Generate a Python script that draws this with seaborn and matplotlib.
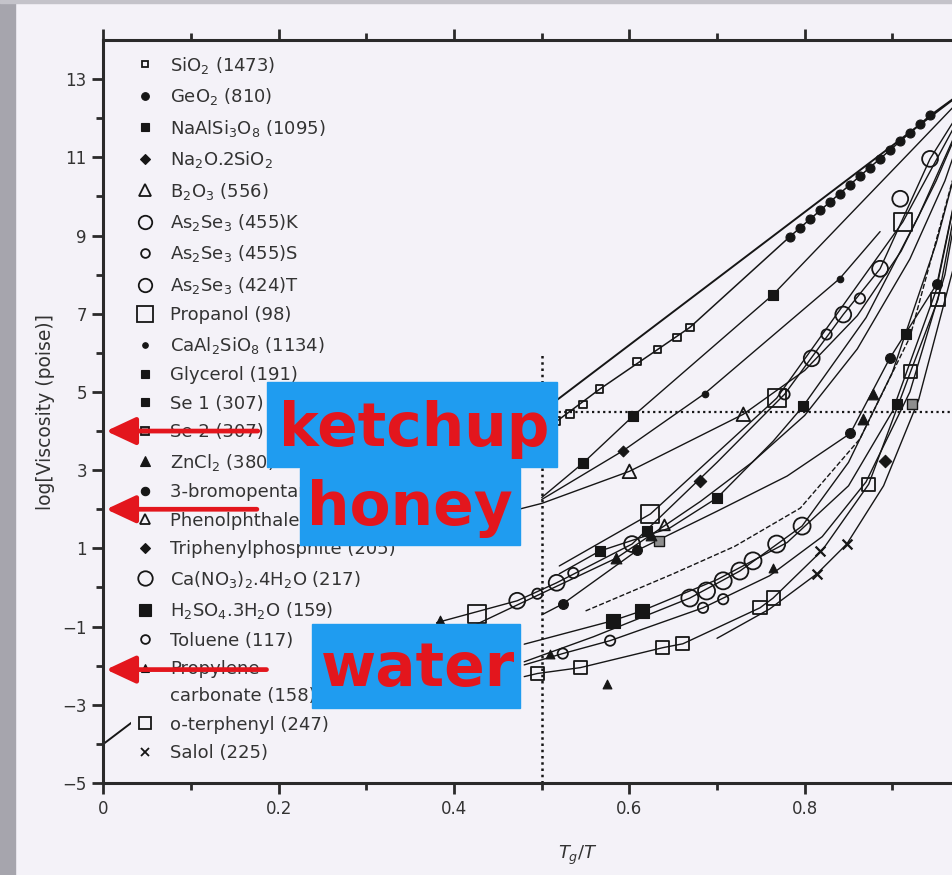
import numpy as np
import pandas as pd
import seaborn as sns
import matplotlib
matplotlib.use("Agg")
import matplotlib.pyplot as plt
from matplotlib.lines import Line2D
from matplotlib.markers import MarkerStyle
from matplotlib.patches import Rectangle
from matplotlib.transforms import Affine2D

sns.set_theme(style="ticks")
plt.rcParams["font.family"] = ["DejaVu Sans"]
plt.rcParams["mathtext.fontset"] = "dejavusans"

# ---------------------------------------------------------------------------
# Data: x = Tg/T, y = log10 viscosity (poise)
# ---------------------------------------------------------------------------
series_labels = [
    r"SiO$_2$ (1473)", r"GeO$_2$ (810)", r"NaAlSi$_3$O$_8$ (1095)", r"Na$_2$O.2SiO$_2$",
    r"B$_2$O$_3$ (556)", r"As$_2$Se$_3$ (455)K", r"As$_2$Se$_3$ (455)S", r"As$_2$Se$_3$ (424)T",
    "Propanol (98)", r"CaAl$_2$SiO$_8$ (1134)", "Glycerol (191)", "Se 1 (307)", "Se 2 (307)",
    r"ZnCl$_2$ (380)", "3-bromopentane (108)", "Phenolphthalein (363)",
    "Triphenylphosphite (205)", r"Ca(NO$_3$)$_2$.4H$_2$O (217)", r"H$_2$SO$_4$.3H$_2$O (159)",
    "Toluene (117)", "Propylene\ncarbonate (158)", "o-terphenyl (247)", "Salol (225)",
]

sio2_x = [0.517, 0.532, 0.547, 0.566, 0.609, 0.632, 0.654, 0.669]
sio2_y = [4.25, 4.43, 4.68, 5.07, 5.78, 6.09, 6.39, 6.65]
geo2_x = [0.783, 0.795, 0.806, 0.818, 0.829, 0.840, 0.852, 0.863, 0.874, 0.886,
          0.897, 0.909, 0.920, 0.931, 0.943]
geo2_y = [8.97, 9.20, 9.42, 9.65, 9.86, 10.07, 10.30, 10.52, 10.73, 10.96,
          11.18, 11.41, 11.62, 11.84, 12.07]
albite_x = [0.547, 0.604, 0.764]
albite_y = [3.18, 4.38, 7.49]
na2o_x = [0.593]
na2o_y = [3.50]
b2o3_x = [0.600, 0.730]
b2o3_y = [2.97, 4.43]
as_k_x = [0.472, 0.517, 0.603, 0.808, 0.844, 0.943]
as_k_y = [-0.34, 0.12, 1.11, 5.86, 6.98, 10.96]
as_s_x = [0.495, 0.536, 0.777, 0.825, 0.863]
as_s_y = [-0.16, 0.37, 4.94, 6.47, 7.39]
as_t_x = [0.886, 0.909]
as_t_y = [8.15, 9.94]
propanol_x = [0.426, 0.624, 0.768, 0.912]
propanol_y = [-0.67, 1.88, 4.84, 9.35]
caal_x = [0.686, 0.840]
caal_y = [4.96, 7.90]
glycerol_x = [0.566, 0.700, 0.798]
glycerol_y = [0.93, 2.29, 4.63]
se1_x = [0.620, 0.905, 0.916]
se1_y = [1.45, 4.68, 6.47]
se2_x = [0.634, 0.922]
se2_y = [1.20, 4.68]
zncl2_x = [0.384, 0.585, 0.625, 0.867, 0.878]
zncl2_y = [-0.85, 0.75, 1.35, 4.30, 4.94]
bromo_x = [0.524, 0.609, 0.852, 0.897, 0.951]
bromo_y = [-0.42, 0.95, 3.94, 5.86, 7.77]
phenol_x = [0.640]
phenol_y = [1.60]
triphenyl_x = [0.681, 0.892]
triphenyl_y = [2.72, 3.23]
ca_x = [0.669, 0.688, 0.707, 0.726, 0.741, 0.768, 0.797]
ca_y = [-0.27, -0.09, 0.17, 0.42, 0.68, 1.11, 1.57]
h2so4_x = [0.581, 0.614]
h2so4_y = [-0.85, -0.60]
toluene_x = [0.524, 0.578, 0.684, 0.707]
toluene_y = [-1.69, -1.36, -0.52, -0.30]
pc_x = [0.509, 0.574, 0.764]
pc_y = [-1.69, -2.46, 0.50]
oter_x = [0.495, 0.544, 0.638, 0.661, 0.749, 0.764, 0.873, 0.921, 0.952]
oter_y = [-2.20, -2.05, -1.54, -1.44, -0.52, -0.27, 2.64, 5.53, 7.36]
salol_x = [0.814, 0.818, 0.848]
salol_y = [0.35, 0.93, 1.11]

# Fitted curves traced through each family of points
arrhenius_x = [0.0, 1.0]
arrhenius_y = [-4.0, 13.0]
curve_sio2_x = [0.517, 0.566, 0.669, 0.783, 0.943, 1.0]
curve_sio2_y = [4.25, 5.07, 6.65, 8.97, 12.07, 13.0]
curve_albite_x = [0.50, 0.547, 0.604, 0.764, 0.85, 0.923, 1.0]
curve_albite_y = [2.30, 3.18, 4.38, 7.49, 9.50, 11.20, 13.0]
curve_na2o_x = [0.50, 0.593, 0.686, 0.840, 0.886]
curve_na2o_y = [2.25, 3.50, 4.96, 7.90, 9.10]
curve_b2o3_x = [0.43, 0.50, 0.600, 0.730, 0.80, 0.86, 0.91, 0.95, 1.0]
curve_b2o3_y = [1.75, 2.15, 2.97, 4.43, 5.55, 6.95, 8.60, 10.40, 13.0]
curve_as_x = [0.38, 0.472, 0.517, 0.603, 0.70, 0.777, 0.844, 0.886, 0.943, 1.0]
curve_as_y = [-0.90, -0.34, 0.12, 1.11, 3.20, 4.94, 6.98, 8.15, 10.96, 13.0]
curve_prop_x = [0.52, 0.624, 0.768, 0.912, 1.0]
curve_prop_y = [0.55, 1.88, 4.84, 9.35, 13.0]
curve_gly_x = [0.52, 0.566, 0.646, 0.700, 0.764, 0.798, 0.87, 0.93, 1.0]
curve_gly_y = [0.35, 0.93, 1.52, 2.29, 3.74, 4.63, 6.90, 9.50, 13.0]
curve_zn_x = [0.42, 0.50, 0.585, 0.625, 0.681, 0.74, 0.80, 0.86, 0.92, 0.96, 1.0]
curve_zn_y = [-1.00, -0.15, 0.75, 1.35, 2.20, 3.20, 4.40, 6.10, 8.40, 10.40, 13.0]
curve_bromo_x = [0.50, 0.524, 0.609, 0.70, 0.78, 0.852, 0.897, 0.951, 1.0]
curve_bromo_y = [-0.70, -0.42, 0.95, 1.95, 2.85, 3.94, 5.86, 7.77, 13.0]
curve_ca_x = [0.48, 0.559, 0.669, 0.726, 0.797, 0.85, 0.90, 0.95, 1.0]
curve_ca_y = [-1.90, -1.26, -0.27, 0.42, 1.57, 3.20, 5.50, 8.80, 13.0]
curve_dash_x = [0.55, 0.65, 0.72, 0.795, 0.863, 0.92, 1.0]
curve_dash_y = [-0.60, 0.35, 1.05, 2.03, 3.80, 6.40, 13.0]
curve_h2so4_x = [0.48, 0.581, 0.614, 0.70, 0.78, 0.85, 0.90, 0.95, 1.0]
curve_h2so4_y = [-1.45, -0.85, -0.60, 0.20, 1.15, 2.60, 4.50, 7.60, 13.0]
curve_tol_x = [0.48, 0.524, 0.578, 0.684, 0.76, 0.82, 0.87, 0.92, 0.96, 1.0]
curve_tol_y = [-1.98, -1.69, -1.36, -0.52, 0.30, 1.30, 2.70, 5.00, 8.00, 13.0]
curve_oter_x = [0.48, 0.495, 0.544, 0.638, 0.661, 0.749, 0.764, 0.82, 0.873, 0.921, 0.952, 1.0]
curve_oter_y = [-2.28, -2.20, -2.05, -1.54, -1.44, -0.52, -0.27, 0.95, 2.64, 5.53, 7.36, 13.0]
curve_salol_x = [0.70, 0.76, 0.814, 0.848, 0.89, 0.93, 0.97, 1.0]
curve_salol_y = [-1.30, -0.55, 0.35, 1.11, 2.60, 4.80, 8.20, 13.0]

# Reference guides: Tg/T = 0.5 and log viscosity = 4.5
guide_x = 0.5
guide_y = 4.5

# Everyday liquids marked on the viscosity axis
everyday_names = ["ketchup", "honey", "water"]
everyday_levels = [4.0, 2.0, -2.1]

x_ticks = [0.0, 0.2, 0.4, 0.6, 0.8]
x_tick_labels = ["0", "0.2", "0.4", "0.6", "0.8"]
y_ticks = [-5, -3, -1, 1, 3, 5, 7, 9, 11, 13]
y_tick_labels = ["\u22125", "\u22123", "\u22121", "1", "3", "5", "7", "9", "11", "13"]

# ---------------------------------------------------------------------------
W, H = 953, 875
BG = "#f4f2f8"
INK = "#161616"
TXT = "#333333"
RED = "#e3161d"
BLUE = "#1f9cf0"

fig = plt.figure(figsize=(W / 100, H / 100), dpi=100, facecolor=BG)
ax = fig.add_axes([103.5 / W, 92 / H, 876.5 / W, 743 / H])
ax.set_facecolor(BG)

# Slide border strips
fig.add_artist(Rectangle((0, 0), 15 / W, 1, transform=fig.transFigure,
                         color="#a6a5ad", zorder=0))
fig.add_artist(Rectangle((0, 1 - 3 / H), 1, 3 / H, transform=fig.transFigure,
                         color="#c4c3ca", zorder=0))

# Curves
curves = [
    (arrhenius_x, arrhenius_y, "-", 1.4),
    (curve_sio2_x, curve_sio2_y, "-", 1.1),
    (curve_albite_x, curve_albite_y, "-", 1.0),
    (curve_na2o_x, curve_na2o_y, "-", 1.0),
    (curve_b2o3_x, curve_b2o3_y, "-", 1.0),
    (curve_as_x, curve_as_y, "-", 1.0),
    (curve_prop_x, curve_prop_y, "-", 1.0),
    (curve_gly_x, curve_gly_y, "-", 1.0),
    (curve_zn_x, curve_zn_y, "-", 1.0),
    (curve_bromo_x, curve_bromo_y, "-", 1.0),
    (curve_ca_x, curve_ca_y, "-", 1.0),
    (curve_dash_x, curve_dash_y, "--", 1.0),
    (curve_h2so4_x, curve_h2so4_y, "-", 1.0),
    (curve_tol_x, curve_tol_y, "-", 1.0),
    (curve_oter_x, curve_oter_y, "-", 1.0),
    (curve_salol_x, curve_salol_y, "-", 1.0),
]
for cx, cy, ls, lw in curves:
    sns.lineplot(x=cx, y=cy, sort=False, estimator=None, color=INK,
                 linestyle=ls, linewidth=lw, ax=ax, zorder=2)

# Guides
ax.plot([guide_x, guide_x], [-5, 6.0], linestyle=(0, (1, 1.5)), color=INK, lw=1.8, zorder=2)
ax.plot([guide_x, 1.0], [guide_y, guide_y], linestyle=(0, (1, 1.5)), color=INK, lw=1.6, zorder=2)

# Marker series: (x, y, marker, area, face)
GRAY = "#8e8e8e"
series = [
    (sio2_x, sio2_y, "s", 30, "open"),
    (geo2_x, geo2_y, "o", 42, "fill"),
    (albite_x, albite_y, "s", 55, "fill"),
    (na2o_x, na2o_y, "D", 30, "fill"),
    (b2o3_x, b2o3_y, "^", 95, "open"),
    (as_k_x, as_k_y, "o", 130, "open"),
    (as_s_x, as_s_y, "o", 55, "open"),
    (as_t_x, as_t_y, "o", 130, "open"),
    (propanol_x, propanol_y, "s", 170, "open"),
    (caal_x, caal_y, "o", 22, "fill"),
    (glycerol_x, glycerol_y, "s", 55, "fill"),
    (se1_x, se1_y, "s", 45, "fill"),
    (se2_x, se2_y, "s", 45, "gray"),
    (zncl2_x, zncl2_y, "^", 60, "fill"),
    (bromo_x, bromo_y, "o", 50, "fill"),
    (phenol_x, phenol_y, "^", 60, "open"),
    (triphenyl_x, triphenyl_y, "D", 40, "fill"),
    (ca_x, ca_y, "o", 150, "open"),
    (h2so4_x, h2so4_y, "s", 110, "fill"),
    (toluene_x, toluene_y, "o", 55, "open"),
    (pc_x, pc_y, "^", 40, "fill"),
    (oter_x, oter_y, "s", 90, "open"),
    (salol_x, salol_y, "x", 50, "line"),
]
handles = []
for (sx, sy, m, area, face), lab in zip(series, series_labels):
    if face == "open":
        sns.scatterplot(x=sx, y=sy, marker=m, s=area, facecolors="none",
                        edgecolors=INK, linewidths=1.3, ax=ax, zorder=3)
        hf = "none"
    elif face == "gray":
        sns.scatterplot(x=sx, y=sy, marker=m, s=area, color=GRAY,
                        edgecolor=INK, linewidth=1.0, ax=ax, zorder=3)
        hf = GRAY
    elif face == "line":
        sns.scatterplot(x=sx, y=sy, marker=m, s=area, color=INK,
                        linewidth=1.6, ax=ax, zorder=3)
        hf = INK
    else:
        sns.scatterplot(x=sx, y=sy, marker=m, s=area, color=INK,
                        edgecolor=INK, linewidth=0.8, ax=ax, zorder=3)
        hf = INK
    ms = np.sqrt(area) * 0.85
    # a two-line label keeps its symbol level with the first line
    hm = MarkerStyle(m, transform=Affine2D().translate(0, 2.0)) if "\n" in lab else m
    handles.append(Line2D([], [], linestyle="", marker=hm, markersize=ms,
                          markerfacecolor=hf, markeredgecolor=INK,
                          markeredgewidth=1.3 if face != "fill" else 0.8,
                          color=INK, label=lab))

# Axes styling
ax.set_xlim(0, 1)
ax.set_ylim(-5, 14)
ax.set_xticks(x_ticks)
ax.set_xticklabels(x_tick_labels)
ax.set_xticks(np.arange(0.1, 1.0, 0.2), minor=True)
ax.set_yticks(y_ticks)
ax.set_yticklabels(y_tick_labels)
ax.set_yticks(np.arange(-4, 14, 2), minor=True)
ax.tick_params(which="both", direction="out", top=True, right=False,
               labeltop=False, colors="#2a2a2a", width=2, labelsize=12,
               labelcolor=TXT)
ax.tick_params(which="major", length=8, pad=4)
ax.tick_params(which="minor", length=5)
for sp in ax.spines.values():
    sp.set_linewidth(2.2)
    sp.set_color("#2a2a2a")
ax.set_ylabel("log[Viscosity (poise)]", fontsize=13.5, color=TXT, labelpad=5.5)
ax.set_xlabel(r"$T_g/T$", fontsize=13, color=TXT)
ax.xaxis.set_label_coords(0.541, -0.082)
ax.grid(False)

leg = ax.legend(handles=handles, loc="upper left",
                bbox_to_anchor=(131 / W, 1 - 51 / H), bbox_transform=fig.transFigure,
                frameon=True, facecolor=BG, edgecolor="none", framealpha=1,
                fancybox=False, fontsize=13, borderpad=0.2, handlelength=1.2,
                handletextpad=0.75, labelspacing=0.58, borderaxespad=0)
for t in leg.get_texts():
    t.set_color(TXT)
leg.get_texts()[20].set_linespacing(1.65)
leg.set_zorder(5)

# Arrows pointing at everyday viscosities
arrow_tails = [0.176, 0.175, 0.186]
for lvl, tail in zip(everyday_levels, arrow_tails):
    ax.annotate("", xy=(0.003, lvl), xytext=(tail, lvl),
                arrowprops=dict(arrowstyle="-|>,head_length=0.9,head_width=0.42",
                                color=RED, lw=3.4, shrinkA=0, shrinkB=0,
                                mutation_scale=20),
                zorder=6, annotation_clip=False)

# Labelled boxes (figure pixel boxes: left, top, right, bottom) and text baselines
boxes = [(267, 382, 557, 467), (300, 468, 520, 545), (312, 624, 520, 708)]
text_pos = [(279, 446), (307, 525), (321, 686)]
for (l, t, r, b), (tx, ty), name in zip(boxes, text_pos, everyday_names):
    fig.add_artist(Rectangle((l / W, 1 - b / H), (r - l) / W, (b - t) / H,
                             transform=fig.transFigure, color=BLUE, zorder=10))
    fig.text(tx / W, 1 - ty / H, name, fontsize=43, fontweight="bold",
             color=RED, ha="left", va="baseline", zorder=11)

fig.savefig("out.png", dpi=100, facecolor=BG)
